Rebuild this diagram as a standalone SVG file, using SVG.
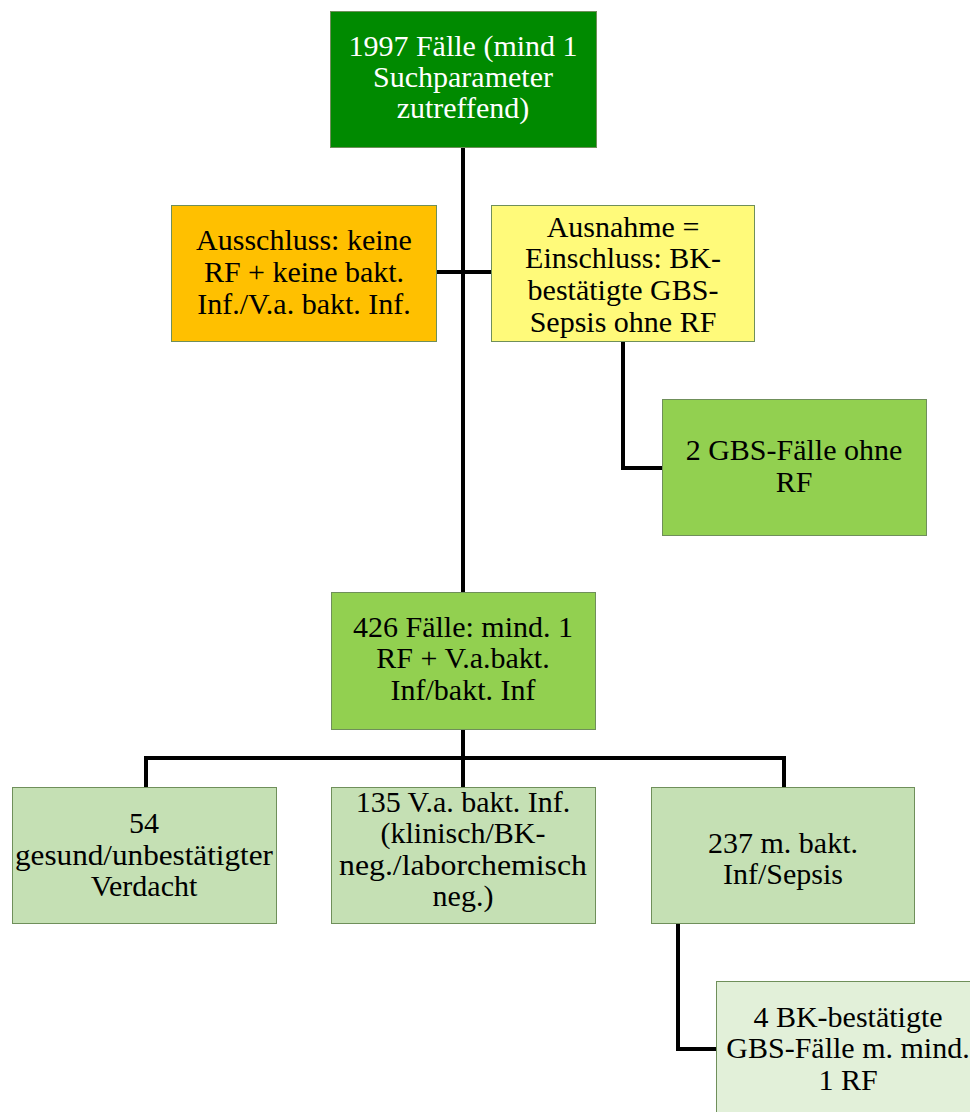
<svg xmlns="http://www.w3.org/2000/svg" width="970" height="1112" viewBox="0 0 970 1112">
<style>
.box{stroke:#6f8f5a;stroke-width:1}
.t{font-family:Liberation Serif,Times New Roman,Times,Noto Serif,DejaVu Serif,FreeSerif,serif;font-size:30px;fill:#000;text-anchor:middle}
.w{fill:#fff}
.c{fill:none;stroke:#000;stroke-width:4}
</style>
<rect width="970" height="1112" fill="#fff"/>
<g id="connectors">
<path class="c" d="M463 148V593"/>
<path class="c" d="M436 272H491"/>
<path class="c" d="M623 342V468H662"/>
<path class="c" d="M463 730V758M146 787V758H784V787M463 758V787"/>
<path class="c" d="M678 923V1049H716"/>
</g>
<g id="n1">
<rect class="box" x="330.5" y="11.5" width="266" height="136" fill="#008A00" stroke="#2e6b2e"/>
<text class="t w" x="463" y="56">1997 Fälle (mind 1</text>
<text class="t w" x="463" y="87">Suchparameter</text>
<text class="t w" x="463" y="118">zutreffend)</text>
</g>
<g id="n2">
<rect class="box" x="171.5" y="205.5" width="265" height="136" fill="#FFC000"/>
<text class="t" x="304" y="250">Ausschluss: keine</text>
<text class="t" x="304" y="282">RF + keine bakt.</text>
<text class="t" x="304" y="314">Inf./V.a. bakt. Inf.</text>
</g>
<g id="n3">
<rect class="box" x="491.5" y="205.5" width="263" height="136" fill="#FFFA7A"/>
<text class="t" x="623" y="237">Ausnahme =</text>
<text class="t" x="623" y="268">Einschluss: BK-</text>
<text class="t" x="623" y="300">bestätigte GBS-</text>
<text class="t" x="623" y="332">Sepsis ohne RF</text>
</g>
<g id="n4">
<rect class="box" x="662.5" y="399.5" width="264" height="136" fill="#92D050"/>
<text class="t" x="794" y="460">2 GBS-Fälle ohne</text>
<text class="t" x="794" y="492">RF</text>
</g>
<g id="n5">
<rect class="box" x="331.5" y="592.5" width="264" height="137" fill="#92D050"/>
<text class="t" x="463" y="637">426 Fälle: mind. 1</text>
<text class="t" x="463" y="668">RF + V.a.bakt.</text>
<text class="t" x="463" y="700">Inf/bakt. Inf</text>
</g>
<g id="n6">
<rect class="box" x="12.5" y="787.5" width="264" height="136" fill="#C5E0B4"/>
<text class="t" x="144" y="833">54</text>
<text class="t" x="144" y="865" textLength="258" lengthAdjust="spacingAndGlyphs">gesund/unbestätigter</text>
<text class="t" x="144" y="896">Verdacht</text>
</g>
<g id="n7">
<rect class="box" x="331.5" y="787.5" width="264" height="136" fill="#C5E0B4"/>
<text class="t" x="463" y="812">135 V.a. bakt. Inf.</text>
<text class="t" x="463" y="843">(klinisch/BK-</text>
<text class="t" x="463" y="875" textLength="248" lengthAdjust="spacingAndGlyphs">neg./laborchemisch</text>
<text class="t" x="463" y="906">neg.)</text>
</g>
<g id="n8">
<rect class="box" x="651.5" y="787.5" width="263" height="136" fill="#C5E0B4"/>
<text class="t" x="783" y="853">237 m. bakt.</text>
<text class="t" x="783" y="884">Inf/Sepsis</text>
</g>
<g id="n9">
<rect class="box" x="716.5" y="981.5" width="264" height="140" fill="#E2F0D9"/>
<text class="t" x="848" y="1027">4 BK-bestätigte</text>
<text class="t" x="848" y="1058">GBS-Fälle m. mind.</text>
<text class="t" x="848" y="1090">1 RF</text>
</g>
</svg>
